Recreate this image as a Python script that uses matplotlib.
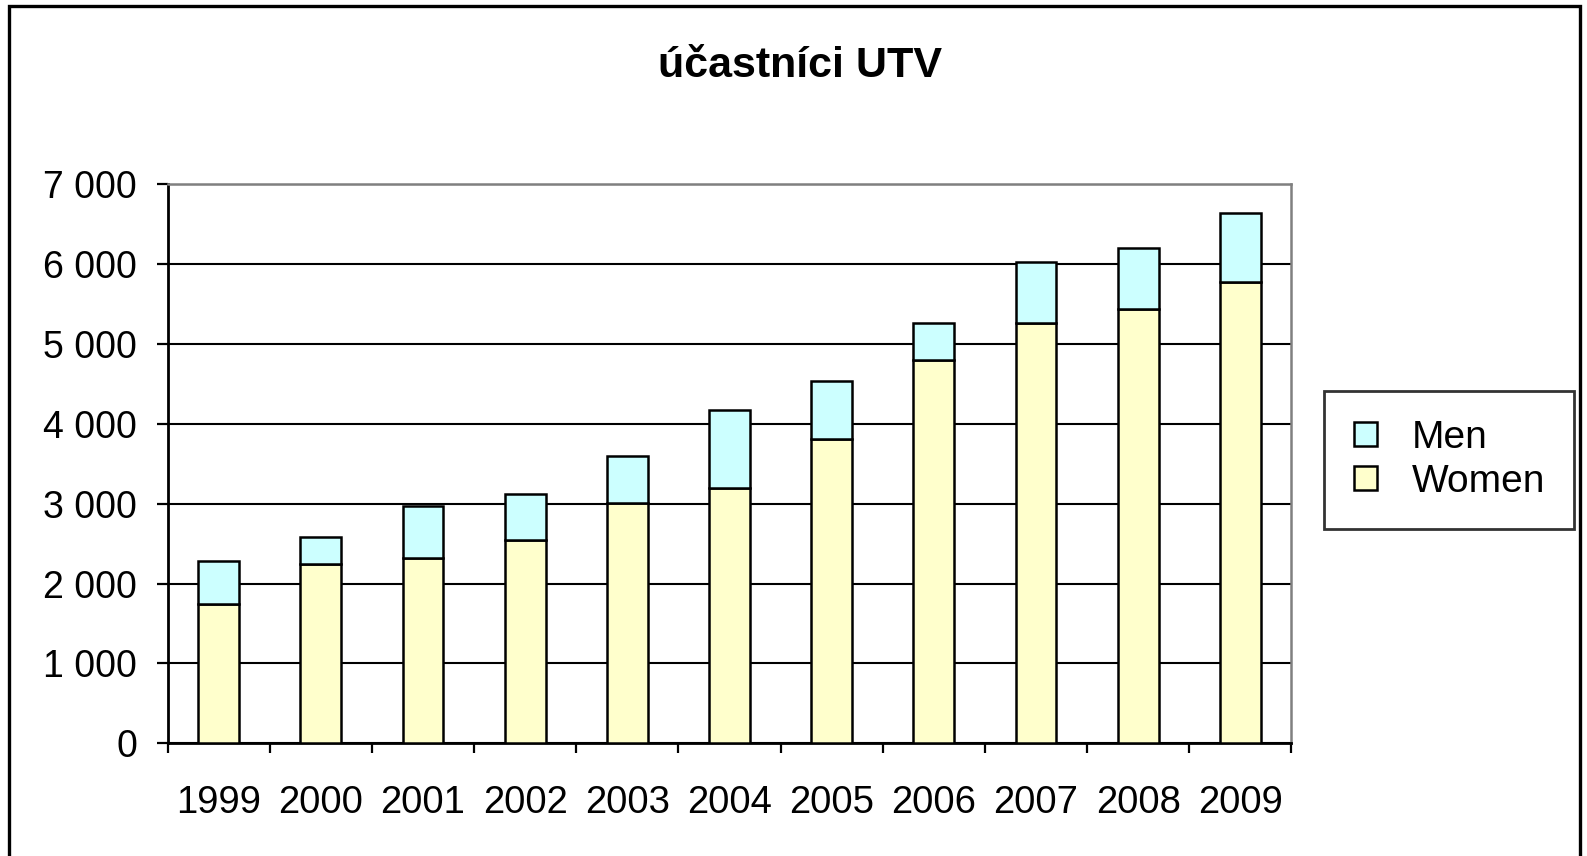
import numpy as np
import matplotlib.pyplot as plt
from matplotlib.patches import Rectangle
from matplotlib.ticker import FuncFormatter

# values
years = ['1999', '2000', '2001', '2002', '2003', '2004',
         '2005', '2006', '2007', '2008', '2009']
women = [1740, 2244, 2316, 2546, 3011, 3193, 3807, 4795, 5264, 5442, 5773]
men = [547, 336, 657, 575, 585, 978, 733, 469, 763, 767, 868]

plt.rcParams['font.family'] = ['Liberation Sans', 'DejaVu Sans']

fig = plt.figure(figsize=(15.87, 8.56), dpi=100)
ax = fig.add_axes([0.1056, 0.1317, 0.7081, 0.6528])

x = np.arange(len(years))
ax.bar(x, women, width=0.4, color='#FFFFCC', edgecolor='black',
       linewidth=1.8, label='Women', zorder=3)
ax.bar(x, men, width=0.4, bottom=women, color='#CCFFFF', edgecolor='black',
       linewidth=1.8, label='Men', zorder=3)

ax.set_xlim(-0.5, len(years) - 0.5)
ax.set_ylim(0, 7000)
ax.set_yticks(np.arange(0, 7001, 1000))
ax.yaxis.set_major_formatter(FuncFormatter(lambda v, p: f'{v:,.0f}'.replace(',', ' ')))
ax.yaxis.grid(True, color='black', linewidth=1.5, zorder=0)
ax.set_axisbelow(True)

# labels at centres, ticks at category boundaries
ax.set_xticks(x)
ax.set_xticklabels(years)
ax.set_xticks(np.arange(-0.5, len(years)), minor=True)
ax.tick_params(axis='x', which='major', length=0, pad=30, labelsize=27.5)
ax.tick_params(axis='x', which='minor', length=7, width=1.6, direction='out')
ax.tick_params(axis='y', length=8, width=1.6, direction='out', pad=14, labelsize=27)

for side in ['top', 'right']:
    ax.spines[side].set_color('#808080')
    ax.spines[side].set_linewidth(1.8)
for side in ['left', 'bottom']:
    ax.spines[side].set_linewidth(2.0)

fig.text(0.504, 0.923, 'účastníci UTV', fontsize=31, fontweight='bold',
         ha='center', va='center')

handles, labels = ax.get_legend_handles_labels()
leg = fig.legend(handles[::-1], labels[::-1], loc='center left',
                 bbox_to_anchor=(0.8345, 0.463), fontsize=28, frameon=True,
                 fancybox=False, edgecolor='black', handlelength=0.6,
                 handleheight=0.6, handletextpad=0.9, borderpad=0.75,
                 labelspacing=0.2, borderaxespad=0)
leg.get_frame().set_linewidth(2.0)

# outer chart frame
fig.patches.append(Rectangle((0.0057, -0.05), 0.99, 1.043, transform=fig.transFigure,
                             fill=False, edgecolor='black', linewidth=2.4))

fig.savefig('out.png', dpi=100)
